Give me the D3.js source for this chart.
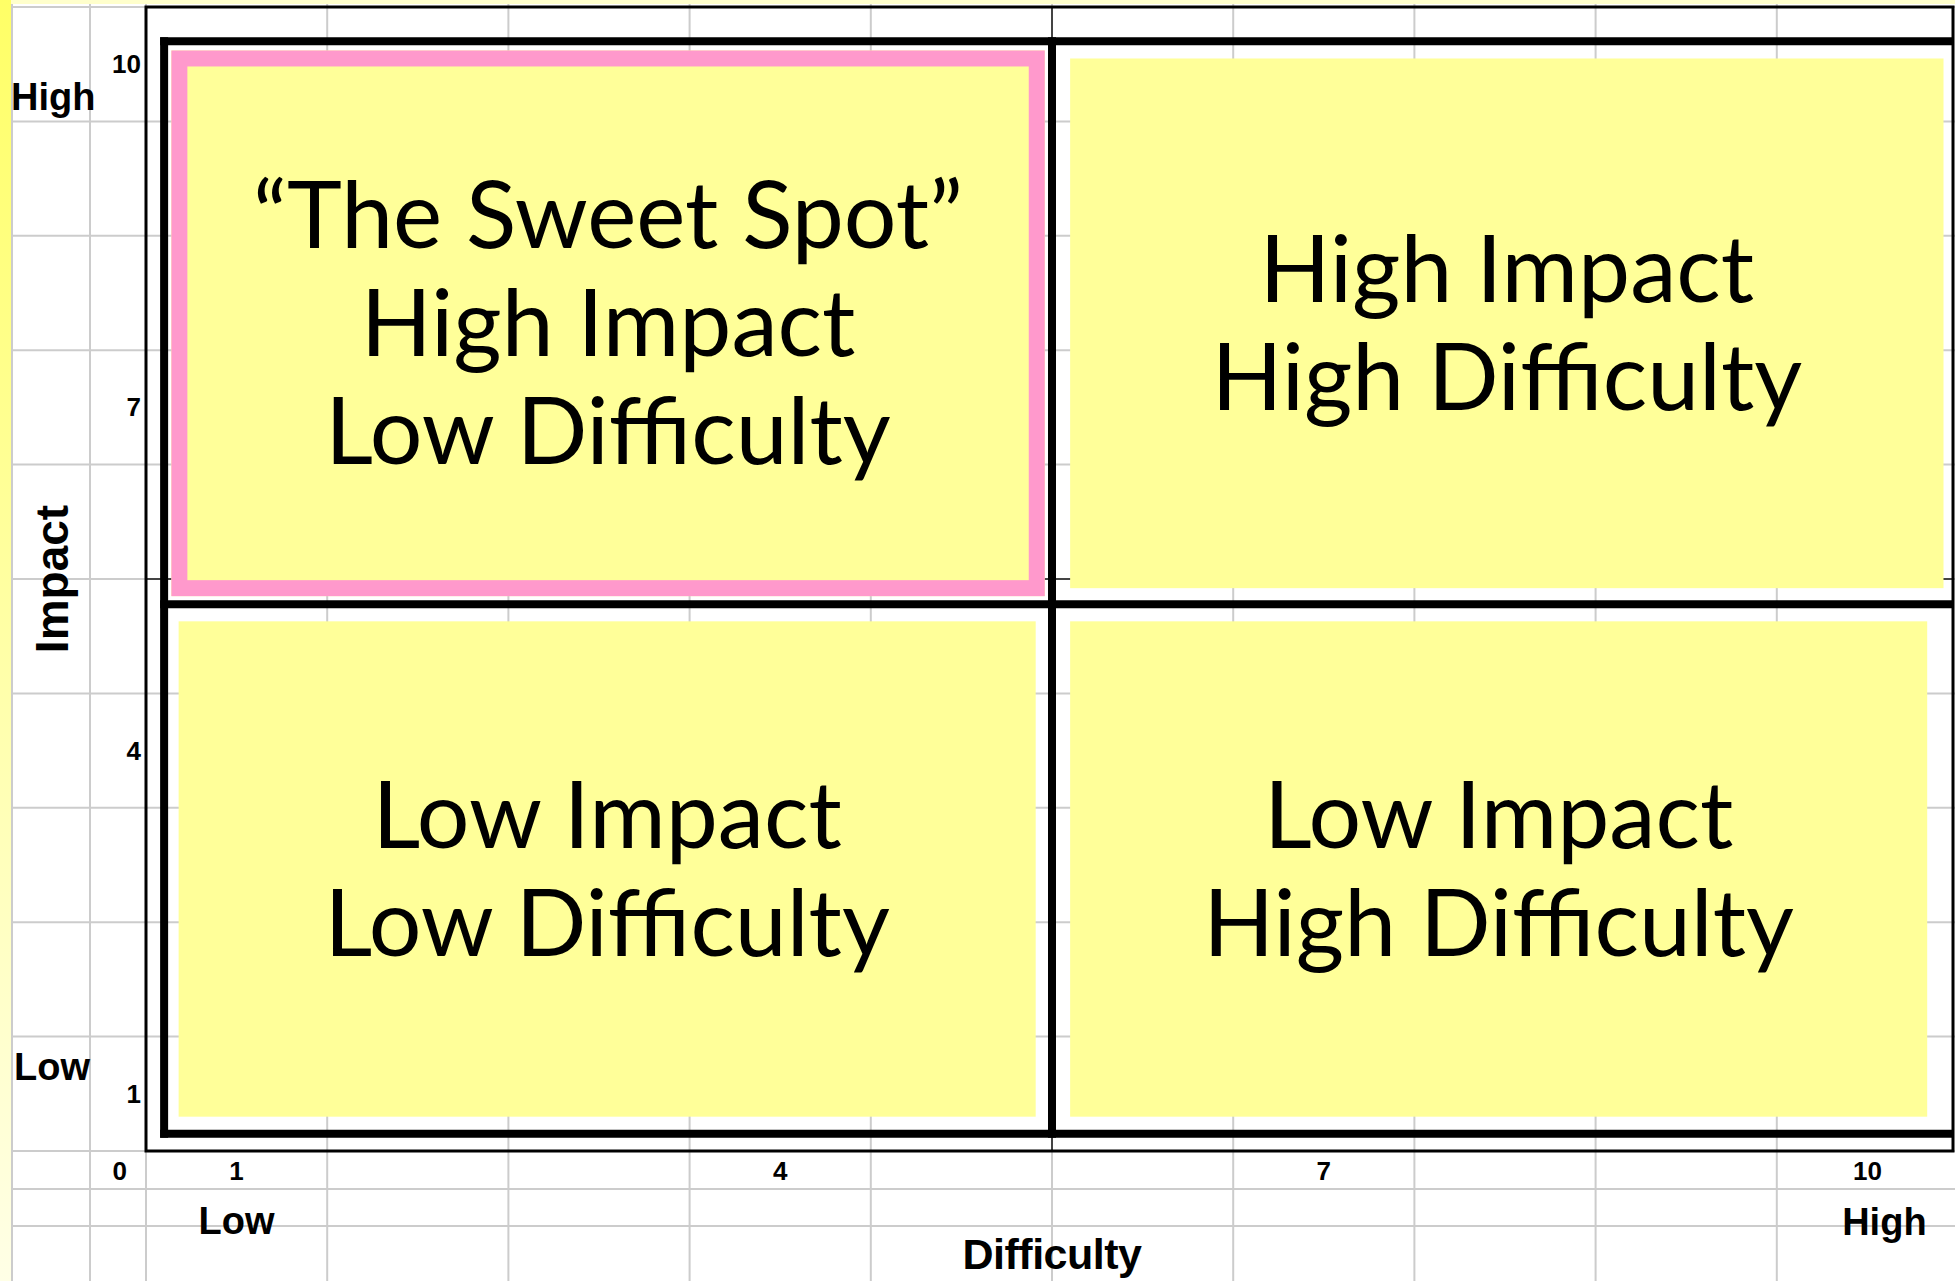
<!DOCTYPE html>
<html>
<head>
<meta charset="utf-8">
<script src="https://cdn.jsdelivr.net/npm/d3@7"></script>
<style>
  html, body { margin: 0; padding: 0; background: #fff; overflow: hidden; }
</style>
</head>
<body>
<div id="chart"></div>
<script>
// tick labels on both axes
const xTicks = [1, 4, 7, 10];
const yTicks = [1, 4, 7, 10];
// end labels of each axis
const xEnds = ["Low", "High"];
const yEnds = ["Low", "High"];
// quadrant boxes, in axis units: [x0, x1, y0, y1]
const quadNames = ["sweet", "hihi", "lolo", "lohi"];
const quadBoxes = [
  [0.64, 5.46, 5.35, 10.12],
  [5.6, 10.42, 5.42, 10.05],
  [0.68, 5.41, 0.8, 5.13],
  [5.6, 10.33, 0.8, 5.13]
];
const quadText = [
  ["\u201cThe Sweet Spot\u201d", "High Impact", "Low Difficulty"],
  ["High Impact", "High Difficulty"],
  ["Low Impact", "Low Difficulty"],
  ["Low Impact", "High Difficulty"]
];
// thick dividing frame, in axis units
const frameX = [0.6, 5.5, 10.6];
const frameY = [0.65, 5.28, 10.2];

function main(){
  var W = 1955, H = 1281;

  var svg = d3.select("#chart")
    .append("svg")
    .attr("width", W)
    .attr("height", H);

  var x = d3.scaleLinear().domain([0.5, 10.5]).range([146, 1958]);
  var y = d3.scaleLinear().domain([0.5, 10.5]).range([1151, 7]);

  // yellow strips on left and top
  var grad = svg.append("defs").append("linearGradient")
    .attr("id", "strip").attr("x1", 0).attr("y1", 0).attr("x2", 0).attr("y2", 1);
  grad.append("stop").attr("offset", "0%").attr("stop-color", "#ffff66");
  grad.append("stop").attr("offset", "100%").attr("stop-color", "#ffffe6");
  svg.append("rect").attr("x", 0).attr("y", 0).attr("width", W).attr("height", 4).attr("fill", "#ffffcc");
  svg.append("rect").attr("x", 0).attr("y", 0).attr("width", 11).attr("height", H).attr("fill", "url(#strip)");

  // background grid, every half unit plus the sheet columns/rows outside
  var halves = d3.range(0.5, 10.51, 1);
  var vLines = [12, 90].concat(halves.map(d => x(d)));
  var hLines = halves.map(d => y(d)).concat([1189, 1226]);
  svg.append("g").selectAll("line").data(vLines).enter().append("line")
    .attr("x1", d => d).attr("x2", d => d).attr("y1", 4).attr("y2", H)
    .attr("stroke", "#cccccc").attr("stroke-width", 2);
  svg.append("g").selectAll("line").data(hLines).enter().append("line")
    .attr("x1", 12).attr("x2", W).attr("y1", d => d).attr("y2", d => d)
    .attr("stroke", "#cccccc").attr("stroke-width", 2);

  // clip for plot area
  svg.select("defs").append("clipPath").attr("id", "plot")
    .append("rect").attr("x", x(0.5)).attr("y", y(10.5))
    .attr("width", W - 2 - x(0.5)).attr("height", y(0.5) - y(10.5));

  var plot = svg.append("g").attr("clip-path", "url(#plot)");

  // dark cross hair at the middle
  plot.append("line")
    .attr("x1", x(5.5)).attr("x2", x(5.5)).attr("y1", y(10.5)).attr("y2", y(0.5))
    .attr("stroke", "#444").attr("stroke-width", 2);
  plot.append("line")
    .attr("x1", x(0.5)).attr("x2", W).attr("y1", y(5.5)).attr("y2", y(5.5))
    .attr("stroke", "#444").attr("stroke-width", 2);

  // thick quadrant frame
  frameX.forEach(function(v){
    plot.append("line")
      .attr("x1", x(v)).attr("x2", x(v))
      .attr("y1", y(frameY[2]) - 4).attr("y2", y(frameY[0]) + 4)
      .attr("stroke", "#000").attr("stroke-width", 8);
  });
  frameY.forEach(function(v){
    plot.append("line")
      .attr("x1", x(frameX[0]) - 4).attr("x2", x(frameX[2]) + 4)
      .attr("y1", y(v)).attr("y2", y(v))
      .attr("stroke", "#000").attr("stroke-width", 8);
  });

  // quadrant boxes
  quadBoxes.forEach(function(b, i){
    var g = plot.append("g").attr("class", quadNames[i]);
    var rx = x(b[0]), rw = x(b[1]) - x(b[0]);
    var ry = y(b[3]), rh = y(b[2]) - y(b[3]);
    g.append("rect")
      .attr("x", rx).attr("y", ry).attr("width", rw).attr("height", rh)
      .attr("fill", "#ffff99");
    if (quadNames[i] === "sweet") {
      g.append("rect")
        .attr("x", rx + 8).attr("y", ry + 8)
        .attr("width", rw - 16).attr("height", rh - 16)
        .attr("fill", "none")
        .attr("stroke", "#ff99cc")
        .attr("stroke-width", 16);
    }
    var lines = quadText[i];
    var lh = 108;
    var cx = rx + rw / 2, cy = ry + rh / 2;
    var t = g.append("text")
      .attr("text-anchor", "middle")
      .style("font-family", "Lato, 'Open Sans', sans-serif")
      .style("font-size", "93px")
      .attr("fill", "#000");
    lines.forEach(function(s, k){
      t.append("tspan")
        .attr("x", cx)
        .attr("y", cy + 33 + (k - (lines.length - 1) / 2) * lh)
        .text(s);
    });
  });

  // outer plot frame
  svg.append("rect")
    .attr("x", x(0.5)).attr("y", y(10.5))
    .attr("width", W - 2 - x(0.5)).attr("height", y(0.5) - y(10.5))
    .attr("fill", "none").attr("stroke", "#000").attr("stroke-width", 3);

  var bold = "'Liberation Sans', Arial, sans-serif";

  // tick labels
  svg.append("g").selectAll("text").data(yTicks).enter().append("text")
    .attr("x", x(0.5) - 5).attr("y", d => y(d) + 9)
    .attr("text-anchor", "end")
    .style("font-family", bold).style("font-weight", "bold").style("font-size", "26px")
    .text(d => d);
  svg.append("g").selectAll("text").data(xTicks).enter().append("text")
    .attr("x", d => x(d)).attr("y", y(0.5) + 29)
    .attr("text-anchor", "middle")
    .style("font-family", bold).style("font-weight", "bold").style("font-size", "26px")
    .text(d => d);
  svg.append("text")
    .attr("x", x(0.5) - 19).attr("y", y(0.5) + 29)
    .attr("text-anchor", "end")
    .style("font-family", bold).style("font-weight", "bold").style("font-size", "26px")
    .text("0");

  // Low / High labels
  svg.append("text")
    .attr("x", 14).attr("y", y(1) - 14)
    .style("font-family", bold).style("font-weight", "bold").style("font-size", "38px")
    .text(yEnds[0]);
  svg.append("text")
    .attr("x", 11).attr("y", y(10) + 46)
    .style("font-family", bold).style("font-weight", "bold").style("font-size", "38px")
    .text(yEnds[1]);
  svg.append("text")
    .attr("x", x(1)).attr("y", y(0.5) + 83)
    .attr("text-anchor", "middle")
    .style("font-family", bold).style("font-weight", "bold").style("font-size", "38px")
    .text(xEnds[0]);
  svg.append("text")
    .attr("x", x(10) + 17).attr("y", y(0.5) + 84)
    .attr("text-anchor", "middle")
    .style("font-family", bold).style("font-weight", "bold").style("font-size", "38px")
    .text(xEnds[1]);

  // axis titles
  svg.append("text")
    .attr("x", x(5.5)).attr("y", 1269)
    .attr("text-anchor", "middle")
    .style("font-family", bold).style("font-weight", "bold").style("font-size", "43px")
    .style("letter-spacing", "-0.5px")
    .text("Difficulty");
  svg.append("text")
    .attr("transform", "translate(68," + y(5.5) + ") rotate(-90)")
    .attr("text-anchor", "middle")
    .style("font-family", bold).style("font-weight", "bold").style("font-size", "46px")
    .text("Impact");
}
main();
</script>
</body>
</html>
